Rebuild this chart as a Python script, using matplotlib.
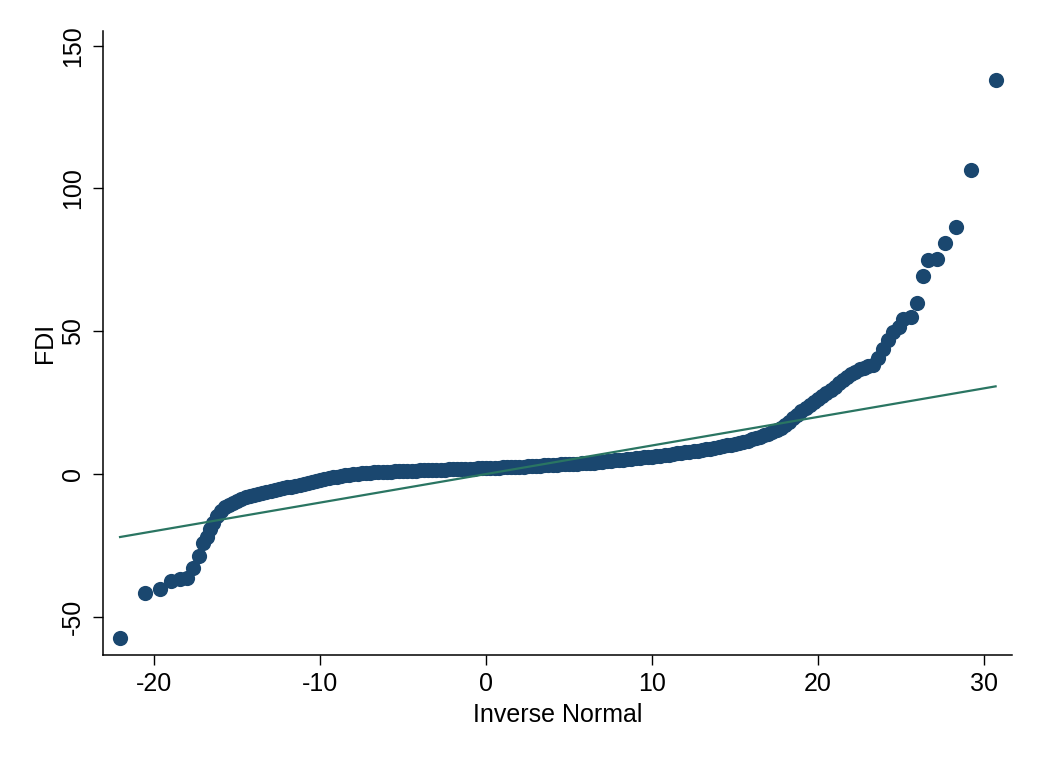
import matplotlib
matplotlib.use("Agg")
import matplotlib.pyplot as plt

# Lower tail (inverse normal, FDI)
tail_lo_x = [-22.07, -20.57, -19.66, -19.02, -18.46, -18.02, -17.66, -17.33, -17.05,
             -16.81, -16.65, -16.45, -16.24, -16.0, -15.74, -15.5, -15.25, -15.0]
tail_lo_y = [-57.6, -41.8, -40.3, -37.4, -36.9, -36.3, -32.8, -28.6, -24.3,
             -22.0, -19.4, -17.1, -14.7, -12.9, -11.5, -10.8, -10.3, -9.6]

# Dense body of the distribution (read along the band)
body_x = [-14.75, -14.5, -14.25, -14.0, -13.75, -13.5, -13.25, -13.0, -12.75, -12.5, -12.25, -12.0,
          -11.75, -11.5, -11.25, -11.0, -10.75, -10.5, -10.25, -10.0, -9.75, -9.5, -9.25, -9.0,
          -8.75, -8.5, -8.25, -8.0, -7.75, -7.5, -7.25, -7.0, -6.75, -6.5, -6.25, -6.0,
          -5.75, -5.5, -5.25, -5.0, -4.75, -4.5, -4.25, -4.0, -3.75, -3.5, -3.25, -3.0,
          -2.75, -2.5, -2.25, -2.0, -1.75, -1.5, -1.25, -1.0, -0.75, -0.5, -0.25, 0.0,
          0.25, 0.5, 0.75, 1.0, 1.25, 1.5, 1.75, 2.0, 2.25, 2.5, 2.75, 3.0,
          3.25, 3.5, 3.75, 4.0, 4.25, 4.5, 4.75, 5.0, 5.25, 5.5, 5.75, 6.0,
          6.25, 6.5, 6.75, 7.0, 7.25, 7.5, 7.75, 8.0, 8.25, 8.5, 8.75, 9.0,
          9.25, 9.5, 9.75, 10.0, 10.25, 10.5, 10.75, 11.0, 11.25, 11.5, 11.75, 12.0,
          12.25, 12.5, 12.75, 13.0, 13.25, 13.5, 13.75, 14.0, 14.25, 14.5, 14.75, 15.0,
          15.25, 15.5, 15.75, 16.0, 16.25, 16.5, 16.75, 17.0,
          17.25, 17.5, 17.75, 18.0, 18.25, 18.5, 18.75, 19.0, 19.25, 19.5, 19.75, 20.0,
          20.25, 20.5, 20.75, 21.0, 21.25, 21.5, 21.75, 22.0, 22.25, 22.5, 22.75, 23.0]
body_y = [-8.8, -8.2, -7.8, -7.4, -7.0, -6.6, -6.2, -5.9, -5.6, -5.3, -5.0, -4.7,
          -4.45, -4.2, -3.9, -3.6, -3.25, -2.9, -2.55, -2.2, -1.85, -1.5, -1.2, -0.9,
          -0.65, -0.4, -0.2, 0.0, 0.15, 0.3, 0.4, 0.5, 0.6, 0.7, 0.75, 0.8,
          0.85, 0.9, 0.95, 1.0, 1.05, 1.1, 1.17, 1.25, 1.3, 1.35, 1.4, 1.45,
          1.5, 1.55, 1.6, 1.65, 1.7, 1.75, 1.8, 1.85, 1.9, 1.95, 2.0, 2.05,
          2.1, 2.15, 2.22, 2.3, 2.35, 2.4, 2.47, 2.55, 2.62, 2.7, 2.77, 2.85,
          2.92, 3.0, 3.07, 3.15, 3.25, 3.35, 3.42, 3.5, 3.57, 3.65, 3.72, 3.8,
          3.9, 4.0, 4.15, 4.3, 4.45, 4.6, 4.75, 4.9, 5.05, 5.2, 5.35, 5.5,
          5.65, 5.8, 5.95, 6.1, 6.25, 6.4, 6.6, 6.8, 7.0, 7.2, 7.4, 7.6,
          7.8, 8.0, 8.2, 8.4, 8.65, 8.9, 9.15, 9.4, 9.7, 10.0, 10.3, 10.6,
          10.95, 11.3, 11.7, 12.1, 12.55, 13.0, 13.5, 14.0,
          14.6, 15.3, 16.1, 17.0, 18.2, 19.5, 20.8, 22.0, 23.1, 24.2, 25.3, 26.3,
          27.3, 28.3, 29.4, 30.6, 31.7, 32.8, 33.9, 35.0, 35.9, 36.8, 37.3, 37.8]

# Upper tail
tail_hi_x = [23.3, 23.6, 23.9, 24.2, 24.5, 24.9, 25.1, 25.6, 25.95, 26.3, 26.6,
             27.15, 27.65, 28.3, 29.2, 30.7]
tail_hi_y = [38.2, 40.5, 43.7, 46.9, 49.8, 51.6, 54.2, 54.9, 60.0, 69.3, 74.9,
             75.4, 81.0, 86.4, 106.5, 138.0]

x_ticks = [-20, -10, 0, 10, 20, 30]
y_ticks = [-50, 0, 50, 100, 150]

xs = tail_lo_x + body_x + tail_hi_x
ys = tail_lo_y + body_y + tail_hi_y

plt.rcParams['font.family'] = ['Liberation Sans', 'DejaVu Sans']

fig = plt.figure(figsize=(10.37, 7.57), dpi=100)
ax = fig.add_axes([0.0996, 0.1347, 0.876, 0.8247])

ax.scatter(xs, ys, s=120, color='#1a476f', linewidths=0, zorder=2)
xmin, xmax = min(xs), max(xs)
ax.plot([xmin, xmax], [xmin, xmax], color='#2a7562', lw=1.6, zorder=3)

ax.set_xlim(-23.08, 31.67)
ax.set_ylim(-63.4, 155.25)
ax.set_xticks(x_ticks)
ax.set_yticks(y_ticks)
ax.set_xticklabels([str(t) for t in x_ticks])
ax.set_yticklabels([str(t) for t in y_ticks], rotation=90, va='center')

for s in ['top', 'right']:
    ax.spines[s].set_visible(False)
for s in ['left', 'bottom']:
    ax.spines[s].set_linewidth(1.1)
    ax.spines[s].set_color('black')

ax.tick_params(axis='both', direction='out', length=7.2, width=1.0,
               labelsize=18, color='black', labelcolor='black')
ax.tick_params(axis='x', pad=5)
ax.tick_params(axis='y', pad=6)

ax.set_xlabel('Inverse Normal', fontsize=18, labelpad=5)
ax.set_ylabel('FDI', fontsize=18, labelpad=3)

fig.savefig('out.png', dpi=100, facecolor='white')
